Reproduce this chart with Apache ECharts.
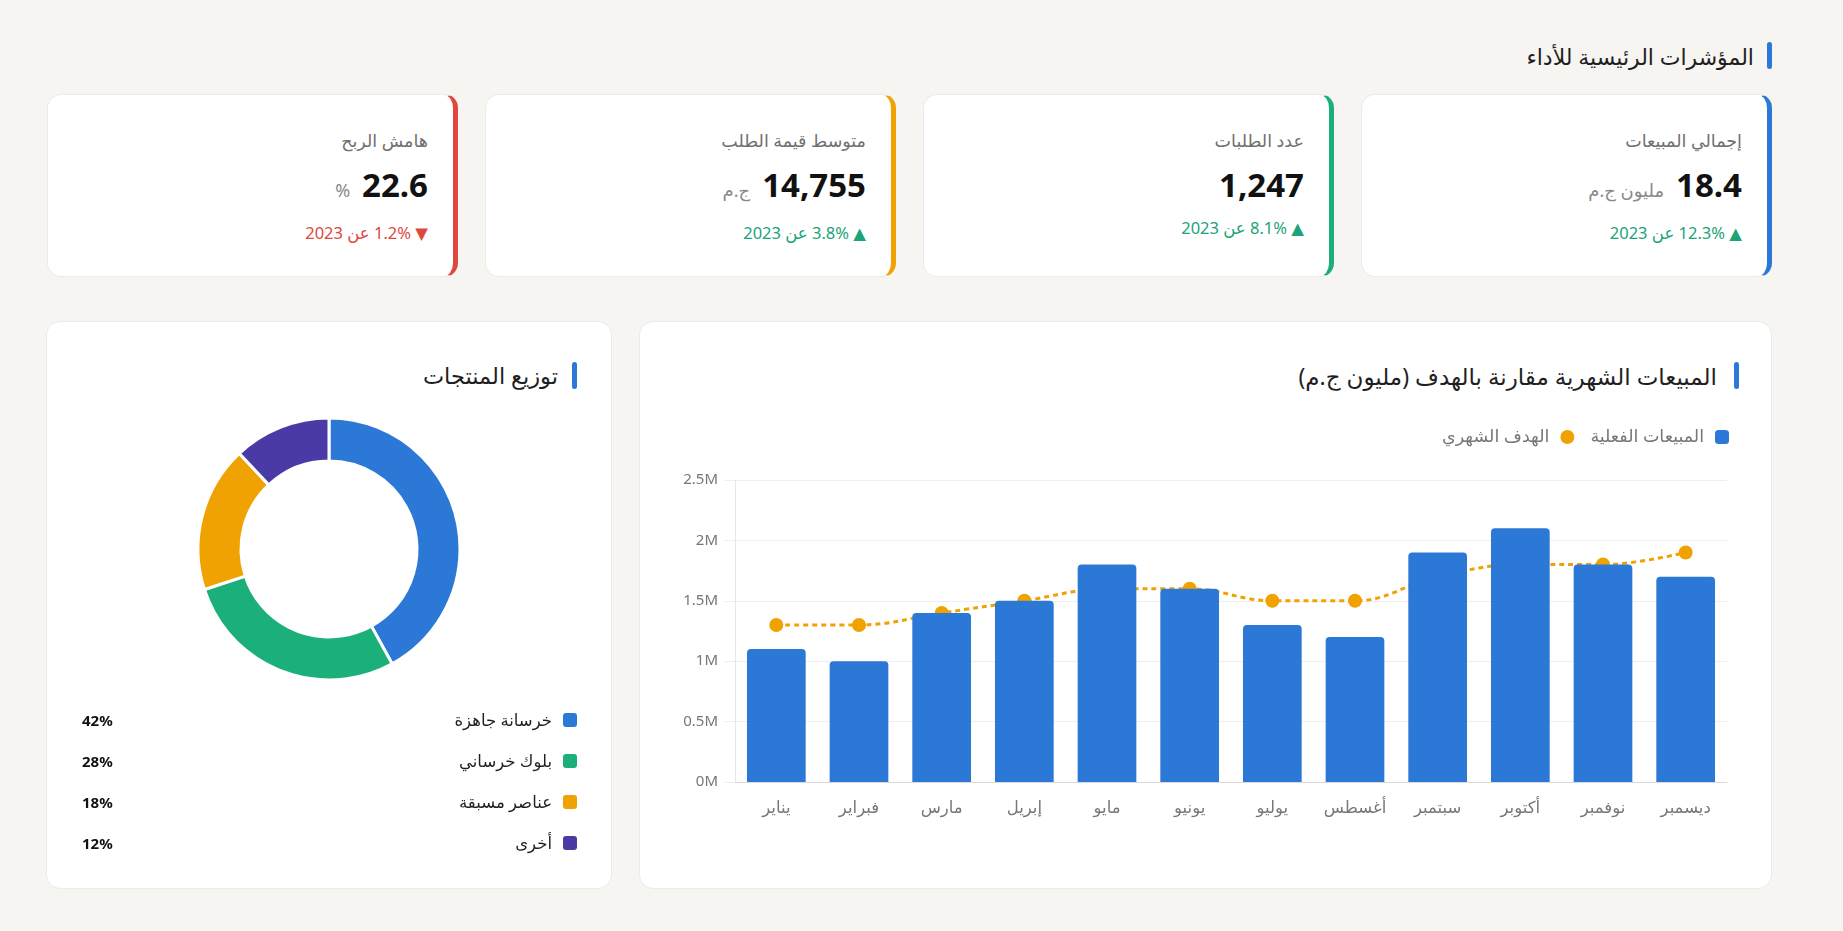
<!DOCTYPE html>
<html lang="ar" dir="rtl">
<head>
<meta charset="utf-8">
<title>لوحة المؤشرات</title>
<script src="https://cdn.jsdelivr.net/npm/echarts@6/dist/echarts.min.js"></script>
<style>
  body {
    margin: 0;
    background: #f6f5f2;
    font-family: "Noto Sans", "DejaVu Sans", sans-serif;
    color: #1f1f1f;
  }
  .page {
    width: 1726px;
    margin-left: 46px;
    margin-right: auto;
    padding-top: 42px;
  }
  .section-title {
    display: flex;
    align-items: center;
    height: 27px;
    font-size: 22px;
  }
  .section-title .mark {
    width: 5px;
    height: 27px;
    border-radius: 3px;
    background: #2b78d6;
    margin-left: 13px;
  }
  .kpis {
    display: flex;
    gap: 27px;
    margin-top: 25px;
  }
  .kpi {
    box-sizing: border-box;
    width: 411px;
    height: 183px;
    background: #fff;
    border: 1px solid #ebebeb;
    border-right: 5px solid #2b78d6;
    border-radius: 14px;
    padding: 33px 25px 0 0;
  }
  .kpi .label {
    font-size: 17.5px;
    line-height: 24px;
    color: #707070;
  }
  .kpi .value {
    margin-top: 11px;
    line-height: 44px;
    display: flex;
    align-items: baseline;
  }
  .kpi .value b {
    font-size: 33px;
    color: #111;
  }
  .kpi .value span {
    font-size: 18px;
    color: #8a8a8a;
    margin-right: 12px;
  }
  .kpi .change {
    margin-top: 10px;
    font-size: 16.5px;
    line-height: 22px;
  }
  .up { color: #1ba479; }
  .down { color: #e0483f; }
  .row {
    display: flex;
    gap: 27px;
    margin-top: 44px;
  }
  .card {
    position: relative;
    box-sizing: border-box;
    height: 568px;
    background: #fff;
    border: 1px solid #ebebeb;
    border-radius: 14px;
  }
  .card .section-title {
    position: absolute;
    top: 40px;
  }
  .sales-card { width: 1133px; }
  .sales-card .section-title { right: 32px; font-size: 23px; }
  .sales-card .section-title .mark { margin-left: 17px; }
  .mix-card { width: 566px; }
  .mix-card .section-title { right: 34px; font-size: 22.5px; }
  .mix-card .section-title .mark { margin-left: 14px; }
  #sales { position: absolute; top: 80px; left: 0; right: 0; bottom: 0; }
  #mix { position: absolute; top: 80px; left: 0; right: 0; height: 300px; }
  .mix-legend {
    position: absolute;
    top: 377px;
    left: 35px;
    right: 34px;
  }
  .mix-legend .item {
    display: flex;
    align-items: center;
    height: 41px;
    font-size: 16.5px;
  }
  .mix-legend .dot {
    width: 14px;
    height: 14px;
    border-radius: 3px;
    margin-left: 11px;
  }
  .mix-legend .pct {
    margin-right: auto;
    font-weight: bold;
    font-size: 15px;
    color: #111;
  }
</style>
</head>
<body>
<div class="page">
  <div class="section-title"><span class="mark"></span>المؤشرات الرئيسية للأداء</div>
  <div class="kpis" id="kpis"></div>
  <div class="row">
    <div class="card sales-card">
      <div class="section-title"><span class="mark"></span>المبيعات الشهرية مقارنة بالهدف (مليون ج.م)</div>
      <div id="sales" dir="ltr"></div>
    </div>
    <div class="card mix-card">
      <div class="section-title"><span class="mark"></span>توزيع المنتجات</div>
      <div id="mix" dir="ltr"></div>
      <div class="mix-legend" id="mixLegend"></div>
    </div>
  </div>
</div>

<script>
// بطاقات المؤشرات
const kpiLabels = ['إجمالي المبيعات', 'عدد الطلبات', 'متوسط قيمة الطلب', 'هامش الربح'];
const kpiValues = ['18.4', '1,247', '14,755', '22.6'];
const kpiUnits = ['مليون ج.م', '', 'ج.م', '%'];
const kpiChanges = ['12.3%', '8.1%', '3.8%', '1.2%'];
const kpiUp = [true, true, true, false];
const kpiColors = ['#2b78d6', '#1bae79', '#f0a202', '#e0483f'];

// المبيعات الشهرية (مليون)
const months = ['يناير', 'فبراير', 'مارس', 'إبريل', 'مايو', 'يونيو', 'يوليو', 'أغسطس', 'سبتمبر', 'أكتوبر', 'نوفمبر', 'ديسمبر'];
const actualSales = [1.1, 1.0, 1.4, 1.5, 1.8, 1.6, 1.3, 1.2, 1.9, 2.1, 1.8, 1.7];
const monthlyTarget = [1.3, 1.3, 1.4, 1.5, 1.6, 1.6, 1.5, 1.5, 1.7, 1.8, 1.8, 1.9];

// توزيع المنتجات
const productNames = ['خرسانة جاهزة', 'بلوك خرساني', 'عناصر مسبقة', 'أخرى'];
const productShares = [42, 28, 18, 12];
const productColors = ['#2b78d6', '#1bb07a', '#f0a202', '#4a3aa6'];

let html = '';
kpiLabels.forEach((label, i) => {
  const cls = kpiUp[i] ? 'up' : 'down';
  const arrow = kpiUp[i] ? '▲' : '▼';
  html += '<div class="kpi" style="border-right-color:' + kpiColors[i] + '">' +
    '<div class="label">' + label + '</div>' +
    '<div class="value"><b>' + kpiValues[i] + '</b>' + (kpiUnits[i] ? '<span>' + kpiUnits[i] + '</span>' : '') + '</div>' +
    '<div class="change ' + cls + '">' + arrow + ' ' + kpiChanges[i] + ' عن 2023</div>' +
    '</div>';
});
document.getElementById('kpis').innerHTML = html;

let legendHtml = '';
productNames.forEach((name, i) => {
  legendHtml += '<div class="item"><span class="dot" style="background:' + productColors[i] + '"></span>' +
    name + '<span class="pct">' + productShares[i] + '%</span></div>';
});
document.getElementById('mixLegend').innerHTML = legendHtml;

const font = '"Noto Sans", "DejaVu Sans", sans-serif';

const salesChart = echarts.init(document.getElementById('sales'));
salesChart.setOption({
  textStyle: { fontFamily: font },
  animation: false,
  legend: {
    right: 37,
    top: 21,
    align: 'right',
    itemWidth: 14,
    itemHeight: 14,
    itemGap: 16,
    textStyle: { color: '#777', fontSize: 17.5, padding: [0, 6, 0, 0] },
    data: [
      { name: 'الهدف الشهري', icon: 'circle' },
      { name: 'المبيعات الفعلية', icon: 'roundRect' }
    ]
  },
  grid: { left: 95, right: 44, top: 78, bottom: 106 },
  xAxis: {
    type: 'category',
    data: months,
    axisLine: { lineStyle: { color: '#d9d9d9' } },
    axisTick: { show: false },
    axisLabel: { color: '#777', fontSize: 16.5, margin: 18 }
  },
  yAxis: {
    type: 'value',
    min: 0,
    max: 2.5,
    interval: 0.5,
    axisLine: { show: true, lineStyle: { color: '#e6e6e6' } },
    axisTick: { show: true, length: 10, lineStyle: { color: '#ececec' } },
    splitLine: { lineStyle: { color: '#eeeeee' } },
    axisLabel: { color: '#777', fontSize: 15, margin: 17, formatter: v => v + 'M' }
  },
  series: [
    {
      name: 'الهدف الشهري',
      type: 'line',
      z: 1,
      data: monthlyTarget,
      smooth: 0.4,
      symbol: 'circle',
      symbolSize: 14,
      itemStyle: { color: '#f0a202' },
      lineStyle: { color: '#f0a202', width: 3, type: [5, 4] }
    },
    {
      name: 'المبيعات الفعلية',
      type: 'bar',
      z: 3,
      data: actualSales,
      barCategoryGap: '29%',
      itemStyle: { color: '#2b78d6', borderRadius: [4, 4, 0, 0] }
    }
  ]
});

const mixChart = echarts.init(document.getElementById('mix'));
mixChart.setOption({
  animation: false,
  series: [{
    type: 'pie',
    radius: [88, 131],
    center: ['50%', 147],
    startAngle: 90,
    label: { show: false },
    labelLine: { show: false },
    itemStyle: { borderColor: '#fff', borderWidth: 3 },
    data: productNames.map((name, i) => ({
      name: name,
      value: productShares[i],
      itemStyle: { color: productColors[i] }
    }))
  }]
});
</script>
</body>
</html>
